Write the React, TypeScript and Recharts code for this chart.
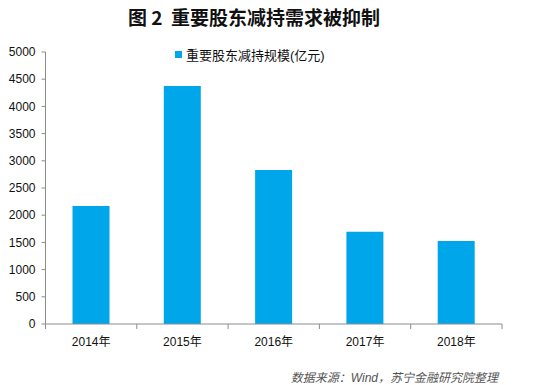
import { Bar, BarChart, XAxis, YAxis } from 'recharts';

const years = ['2014年', '2015年', '2016年', '2017年', '2018年'];
const reduction = [2170, 4375, 2830, 1695, 1525];
const yTicks = [0, 500, 1000, 1500, 2000, 2500, 3000, 3500, 4000, 4500, 5000];

const seriesName = '重要股东减持规模(亿元)';
const barColor = '#00A6EA';
const axisColor = '#8C8C8C';
const latin = '"Liberation Sans", Arial, "Noto Sans CJK SC", sans-serif';

const data = years.map((year, i) => ({ year, value: reduction[i] }));

const W = 536;
const H = 385;
const plotLeft = 45.5;
const plotRight = 502;
const band = (plotRight - plotLeft) / years.length;

function YearTick(props: any) {
  const { x, y, payload, index } = props;
  return (
    <g>
      <line x1={x - band / 2} x2={x - band / 2} y1={y - 8} y2={y - 3} stroke={axisColor} />
      {index === years.length - 1 && (
        <line x1={x + band / 2} x2={x + band / 2} y1={y - 8} y2={y - 3} stroke={axisColor} />
      )}
      <text x={x} y={y + 14} textAnchor="middle" fontSize={12} fill="#111" fontFamily={latin}>
        {payload.value}
      </text>
    </g>
  );
}

export default function App() {
  return (
    <div style={{ position: 'absolute', left: 0, top: 0, width: W, height: H, background: '#fff' }}>
      <div
        style={{
          position: 'absolute',
          top: 3,
          left: 0,
          width: W - 28,
          textAlign: 'center',
          fontFamily: '"Noto Sans CJK SC", sans-serif',
          fontWeight: 700,
          fontSize: 19,
          color: '#111',
          whiteSpace: 'pre',
        }}
      >
        {'图\u00a02\u00a0\u00a0重要股东减持需求被抑制'}
      </div>
      <div
        style={{
          position: 'absolute',
          top: 45,
          left: 175,
          display: 'flex',
          alignItems: 'center',
          fontFamily: latin,
          fontSize: 13,
          color: '#111',
        }}
      >
        <span style={{ width: 7, height: 7, background: barColor, marginRight: 4, display: 'inline-block' }} />
        {seriesName}
      </div>
      <BarChart width={W} height={H} data={data} margin={{ top: 52, right: 34, left: 0, bottom: 0 }}>
        <XAxis
          dataKey="year"
          height={61}
          axisLine={{ stroke: axisColor }}
          tickLine={false}
          tick={<YearTick />}
          interval={0}
        />
        <YAxis
          domain={[0, 5000]}
          ticks={yTicks}
          width={45.5}
          axisLine={{ stroke: axisColor }}
          tickLine={{ stroke: axisColor }}
          tickSize={4}
          tick={{ fontSize: 12, fill: '#111', fontFamily: latin }}
          tickMargin={6}
        />
        <Bar dataKey="value" name={seriesName} fill={barColor} barSize={37} isAnimationActive={false} />
      </BarChart>
      <div
        style={{
          position: 'absolute',
          top: 368,
          right: 38,
          fontFamily: latin,
          fontStyle: 'italic',
          fontSize: 12,
          color: '#555',
        }}
      >
        数据来源：Wind，苏宁金融研究院整理
      </div>
    </div>
  );
}
